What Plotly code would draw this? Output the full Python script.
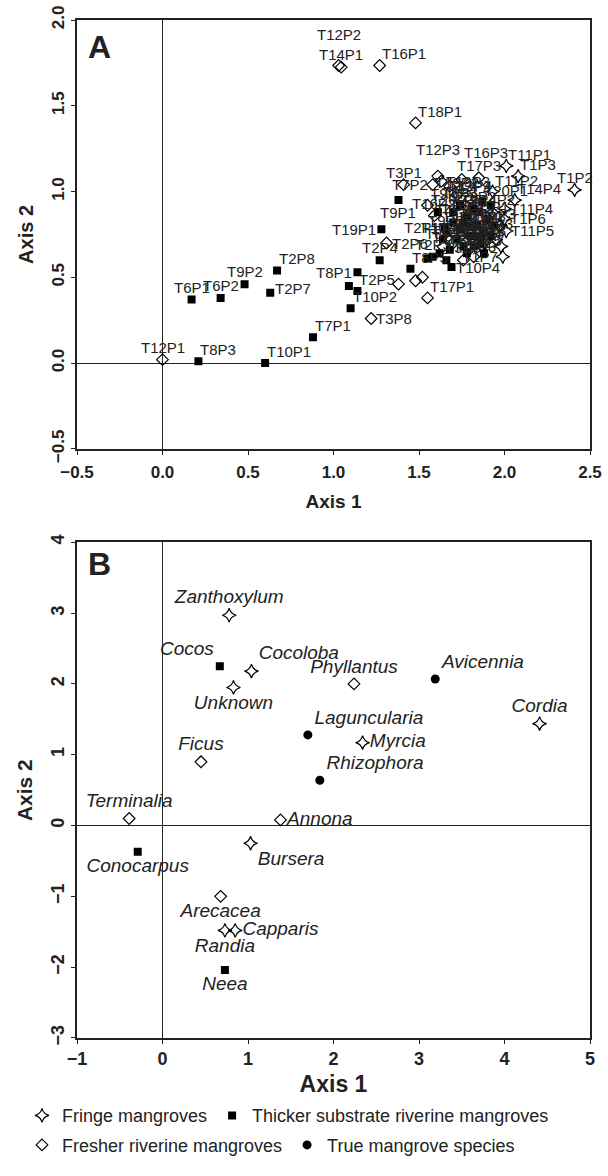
import plotly.graph_objects as go

# ---------------- Panel A data (sites) ----------------
a_fringe_label = ["T1P2", "T1P3", "T11P1", "T11P2", "T14P4", "T11P4", "T1P6", "T11P5",
                  "T1P4", "T1P5", "T11P3", "T1P1", "T14P2", "T14P3", "T1P7"]
a_fringe_x = [2.41, 2.08, 2.01, 1.93, 2.06, 2.00, 2.00, 2.01, 1.97, 1.95, 1.98, 1.90, 1.93, 1.88, 1.99]
a_fringe_y = [1.01, 1.09, 1.15, 1.00, 0.95, 0.90, 0.84, 0.77, 0.80, 0.72, 0.68, 0.78, 0.88, 0.70, 0.62]

a_thick_label = ["T8P3", "T10P1", "T6P1", "T6P2", "T9P2", "T2P8", "T2P7", "T7P1", "T10P2", "T2P5",
                 "T8P2", "T8P1", "T19P1", "T2P4", "T9P1", "T7P4", "T8P5", "T10P4", "T2P3", "T4P4",
                 "T8P4", "T4P5", "T4P1", "T4P2", "T5P1", "T5P2", "T5P3", "T13P1", "T13P2", "T15P1",
                 "T15P2", "T4P3", "T20P2", "T13P3", "T15P3", "T2P2", "T9P3", "T5P4", "T20P1", "T9P4",
                 "T6P3", "T5P5", "T13P4", "T20P3", "T15P4", "T9P5", "T13P5", "T4P6", "T2P1", "T10P3"]
a_thick_x = [0.21, 0.60, 0.17, 0.34, 0.48, 0.67, 0.63, 0.88, 1.10, 1.14,
             1.09, 1.14, 1.28, 1.27, 1.38, 1.61, 1.45, 1.69, 1.58, 1.62,
             1.66, 1.55, 1.70, 1.74, 1.78, 1.80, 1.84, 1.86, 1.88, 1.90,
             1.76, 1.72, 1.82, 1.92, 1.94, 1.68, 1.66, 1.78, 1.87, 1.85,
             1.74, 1.88, 1.82, 1.70, 1.76, 1.92, 1.84, 1.80, 1.65, 1.64]
a_thick_y = [0.01, 0.00, 0.37, 0.38, 0.46, 0.54, 0.41, 0.15, 0.32, 0.42,
             0.45, 0.53, 0.78, 0.60, 0.95, 0.88, 0.55, 0.56, 0.62, 0.64,
             0.60, 0.61, 0.82, 0.78, 0.85, 0.74, 0.80, 0.70, 0.76, 0.84,
             0.68, 0.72, 0.90, 0.74, 0.80, 0.66, 0.76, 0.64, 0.94, 0.88,
             0.92, 0.64, 0.68, 0.88, 0.82, 0.92, 0.74, 0.80, 0.79, 0.72]

a_fresh_label = ["T12P1", "T12P2", "T14P1", "T16P1", "T18P1", "T3P1", "T12P3", "T19P3", "T16P3", "T3P2",
                 "T17P3", "T7P2", "T9P7", "T2P6", "T3P8", "T18P2", "T3P7", "T17P2", "T17P1", "T19P2",
                 "T12P4", "T3P3", "T3P4", "T3P6", "T16P2", "T12P5", "T12P6"]
a_fresh_x = [0.00, 1.03, 1.045, 1.27, 1.48, 1.41, 1.61, 1.63, 1.75, 1.68,
             1.85, 1.58, 1.55, 1.31, 1.22, 1.38, 1.48, 1.52, 1.55, 1.72,
             1.80, 1.64, 1.82, 1.76, 1.59, 1.87, 1.70]
a_fresh_y = [0.02, 1.735, 1.725, 1.735, 1.40, 1.04, 1.09, 1.06, 1.07, 1.03,
             1.08, 1.04, 0.92, 0.70, 0.26, 0.46, 0.48, 0.50, 0.38, 0.98,
             0.96, 0.68, 0.62, 0.60, 0.86, 0.68, 0.70]

# label placement codes (style, not data)
a_fringe_pos = ["tc", "tr", "tr", "tr", "tr", "mr", "mr", "mr", "ml", "ml", "ml", "tc", "tc", "tc", "ml"]
a_thick_pos = ["tr", "tr", "tc", "tc", "tc", "tr", "mr", "tr", "tr", "tr",
               "none", "ml", "ml", "tc", "bc", "none", "tr", "mr", "tc", "none",
               "none", "none", "tc", "tc", "tc", "tc", "tc", "tc", "tc", "tc",
               "tc", "tc", "tc", "tc", "tc", "tc", "tc", "tc", "tr", "tc",
               "tc", "tc", "tc", "tc", "tc", "none", "tc", "tc", "ml", "tc"]
a_fresh_pos = ["tc", "tc", "tc", "tr", "tr", "tc", "tc", "mr", "tr", "mr",
               "tc", "ml", "tr", "mr", "mr", "none", "none", "none", "tr", "tc",
               "tc", "tc", "tc", "tc", "tc", "tc", "tc"]
extra_shift = {"T12P2": (0, 18), "T12P3": (0, 14), "T16P3": (0, 16), "T2P7": (0, 4)}

# ---------------- Panel B data (species) ----------------
b_fringe_label = ["Zanthoxylum", "Cocoloba", "Unknown", "Cordia", "Myrcia", "Bursera", "Capparis", "Randia"]
b_fringe_x = [0.78, 1.04, 0.83, 4.41, 2.34, 1.03, 0.85, 0.73]
b_fringe_y = [2.97, 2.18, 1.95, 1.44, 1.17, -0.25, -1.48, -1.48]

b_thick_label = ["Cocos", "Conocarpus", "Neea"]
b_thick_x = [0.67, -0.29, 0.73]
b_thick_y = [2.25, -0.37, -2.04]

b_fresh_label = ["Phyllantus", "Ficus", "Terminalia", "Annona", "Arecacea"]
b_fresh_x = [2.24, 0.45, -0.39, 1.38, 0.68]
b_fresh_y = [2.00, 0.90, 0.10, 0.08, -1.00]

b_true_label = ["Avicennia", "Laguncularia", "Rhizophora"]
b_true_x = [3.19, 1.70, 1.84]
b_true_y = [2.07, 1.28, 0.64]

b_fringe_pos = ["top center", "top right", "bottom center", "top center", "middle right",
                "bottom right", "middle right", "bottom center"]
b_thick_pos = ["top left", "bottom center", "bottom center"]
b_fresh_pos = ["top center", "top center", "top center", "middle right", "bottom center"]
b_true_pos = ["top right", "top right", "top right"]

legend_names = ["Fringe mangroves", "Thicker substrate riverine mangroves",
                "Fresher riverine mangroves", "True mangrove species"]

FONT = "Liberation Sans, Arial, sans-serif"
W, H = 608, 1176
ML, MR, MT, MB = 77, 18, 20, 121
PH = H - MT - MB
PW = W - ML - MR
A_TOP, A_BOT = 20, 456
B_TOP, B_BOT = 551, 1055


def dom(top, bot):
    return [(H - MB - bot) / PH, (H - MB - top) / PH]


fig = go.Figure()

STAR = dict(symbol="star-diamond-open", color="black", size=10, line=dict(color="black", width=1.2))
SQ = dict(symbol="square", color="black", size=8)
DIA = dict(symbol="diamond-open", color="black", size=9, line=dict(color="black", width=1.2))
CIR = dict(symbol="circle", color="black", size=9)

# Panel A markers
for xs, ys, mk in [(a_thick_x, a_thick_y, SQ), (a_fresh_x, a_fresh_y, DIA), (a_fringe_x, a_fringe_y, STAR)]:
    fig.add_trace(go.Scatter(x=xs, y=ys, mode="markers", marker=mk, xaxis="x", yaxis="y",
                             showlegend=False, hoverinfo="skip"))

POS = {
    "tc": dict(xanchor="center", yanchor="bottom", xshift=0, yshift=3),
    "tr": dict(xanchor="left", yanchor="bottom", xshift=1, yshift=2),
    "tl": dict(xanchor="right", yanchor="bottom", xshift=-1, yshift=2),
    "mr": dict(xanchor="left", yanchor="middle", xshift=4, yshift=0),
    "ml": dict(xanchor="right", yanchor="middle", xshift=-4, yshift=0),
    "bc": dict(xanchor="center", yanchor="top", xshift=0, yshift=-3),
}
annotations = []
for labs, xs, ys, ps in [(a_thick_label, a_thick_x, a_thick_y, a_thick_pos),
                         (a_fresh_label, a_fresh_x, a_fresh_y, a_fresh_pos),
                         (a_fringe_label, a_fringe_x, a_fringe_y, a_fringe_pos)]:
    for lab, x, y, p in zip(labs, xs, ys, ps):
        if p == "none":
            continue
        st = dict(POS[p])
        dx, dy = extra_shift.get(lab, (0, 0))
        st["xshift"] += dx
        st["yshift"] += dy
        annotations.append(dict(x=x, y=y, xref="x", yref="y", text=lab, showarrow=False,
                                font=dict(family=FONT, size=15, color="#222"), borderpad=0, **st))

# Panel B markers with labels
for labs, xs, ys, ps, mk, name, lg in [
        (b_fringe_label, b_fringe_x, b_fringe_y, b_fringe_pos, STAR, legend_names[0], "legend"),
        (b_thick_label, b_thick_x, b_thick_y, b_thick_pos, SQ, legend_names[1], "legend"),
        (b_fresh_label, b_fresh_x, b_fresh_y, b_fresh_pos, DIA, legend_names[2], "legend2"),
        (b_true_label, b_true_x, b_true_y, b_true_pos, CIR, legend_names[3], "legend2")]:
    fig.add_trace(go.Scatter(x=xs, y=ys, text=labs, mode="markers+text", textposition=ps,
                             textfont=dict(family=FONT, size=19, style="italic", color="#222"),
                             marker=mk, name=name, legend=lg, xaxis="x2", yaxis="y2",
                             hoverinfo="skip"))

annotations.append(dict(x=0.043, y=0.938, xref="x domain", yref="y domain", text="A", showarrow=False,
                        font=dict(family=FONT, size=32, weight="bold", color="#222"),
                        xanchor="center", yanchor="middle"))
annotations.append(dict(x=0.043, y=0.956, xref="x2 domain", yref="y2 domain", text="B", showarrow=False,
                        font=dict(family=FONT, size=32, weight="bold", color="#222"),
                        xanchor="center", yanchor="middle"))

axis_common = dict(showline=True, mirror=True, linecolor="#222", linewidth=1.5, ticks="outside",
                   ticklen=4, tickcolor="#222", showgrid=False, zeroline=True, zerolinecolor="#222",
                   zerolinewidth=1.2, automargin=False)

LEG_X = (22 - ML) / PW

fig.update_layout(
    width=W, height=H, margin=dict(l=ML, r=MR, t=MT, b=MB),
    plot_bgcolor="white", paper_bgcolor="white",
    font=dict(family=FONT, color="#222"),
    xaxis=dict(domain=[0, 1], anchor="y", range=[-0.5, 2.5], tickvals=[-0.5, 0, 0.5, 1, 1.5, 2, 2.5],
               tickformat=".1f", tickfont=dict(size=17, weight="bold"), ticklabelstandoff=3,
               title=dict(text="Axis 1", font=dict(size=19, weight="bold"), standoff=14), **axis_common),
    yaxis=dict(domain=dom(A_TOP, A_BOT), anchor="x", range=[-0.5, 2.0],
               tickvals=[-0.5, 0, 0.5, 1, 1.5, 2], tickformat=".1f", tickangle=-90,
               tickfont=dict(size=17, weight="bold"),
               title=dict(text="Axis 2", font=dict(size=20, weight="bold"), standoff=10), **axis_common),
    xaxis2=dict(domain=[0, 1], anchor="y2", range=[-1, 5], dtick=1,
                tickfont=dict(size=18, weight="bold"),
                title=dict(text="Axis 1", font=dict(size=23, weight="bold"), standoff=8), **axis_common),
    yaxis2=dict(domain=dom(B_TOP, B_BOT), anchor="x2", range=[-3, 4], dtick=1, tickangle=-90,
                tickfont=dict(size=18, weight="bold"),
                title=dict(text="Axis 2", font=dict(size=21, weight="bold"), standoff=10), **axis_common),
    legend=dict(orientation="h", x=LEG_X, xanchor="left", y=(H - MB - 1134) / PH, yanchor="middle",
                font=dict(size=18, family=FONT), itemwidth=30, bgcolor="rgba(0,0,0,0)"),
    legend2=dict(orientation="h", x=LEG_X, xanchor="left", y=(H - MB - 1164) / PH, yanchor="middle",
                 font=dict(size=18, family=FONT), itemwidth=30, bgcolor="rgba(0,0,0,0)"),
    annotations=annotations,
)

fig.write_html("out.html")
